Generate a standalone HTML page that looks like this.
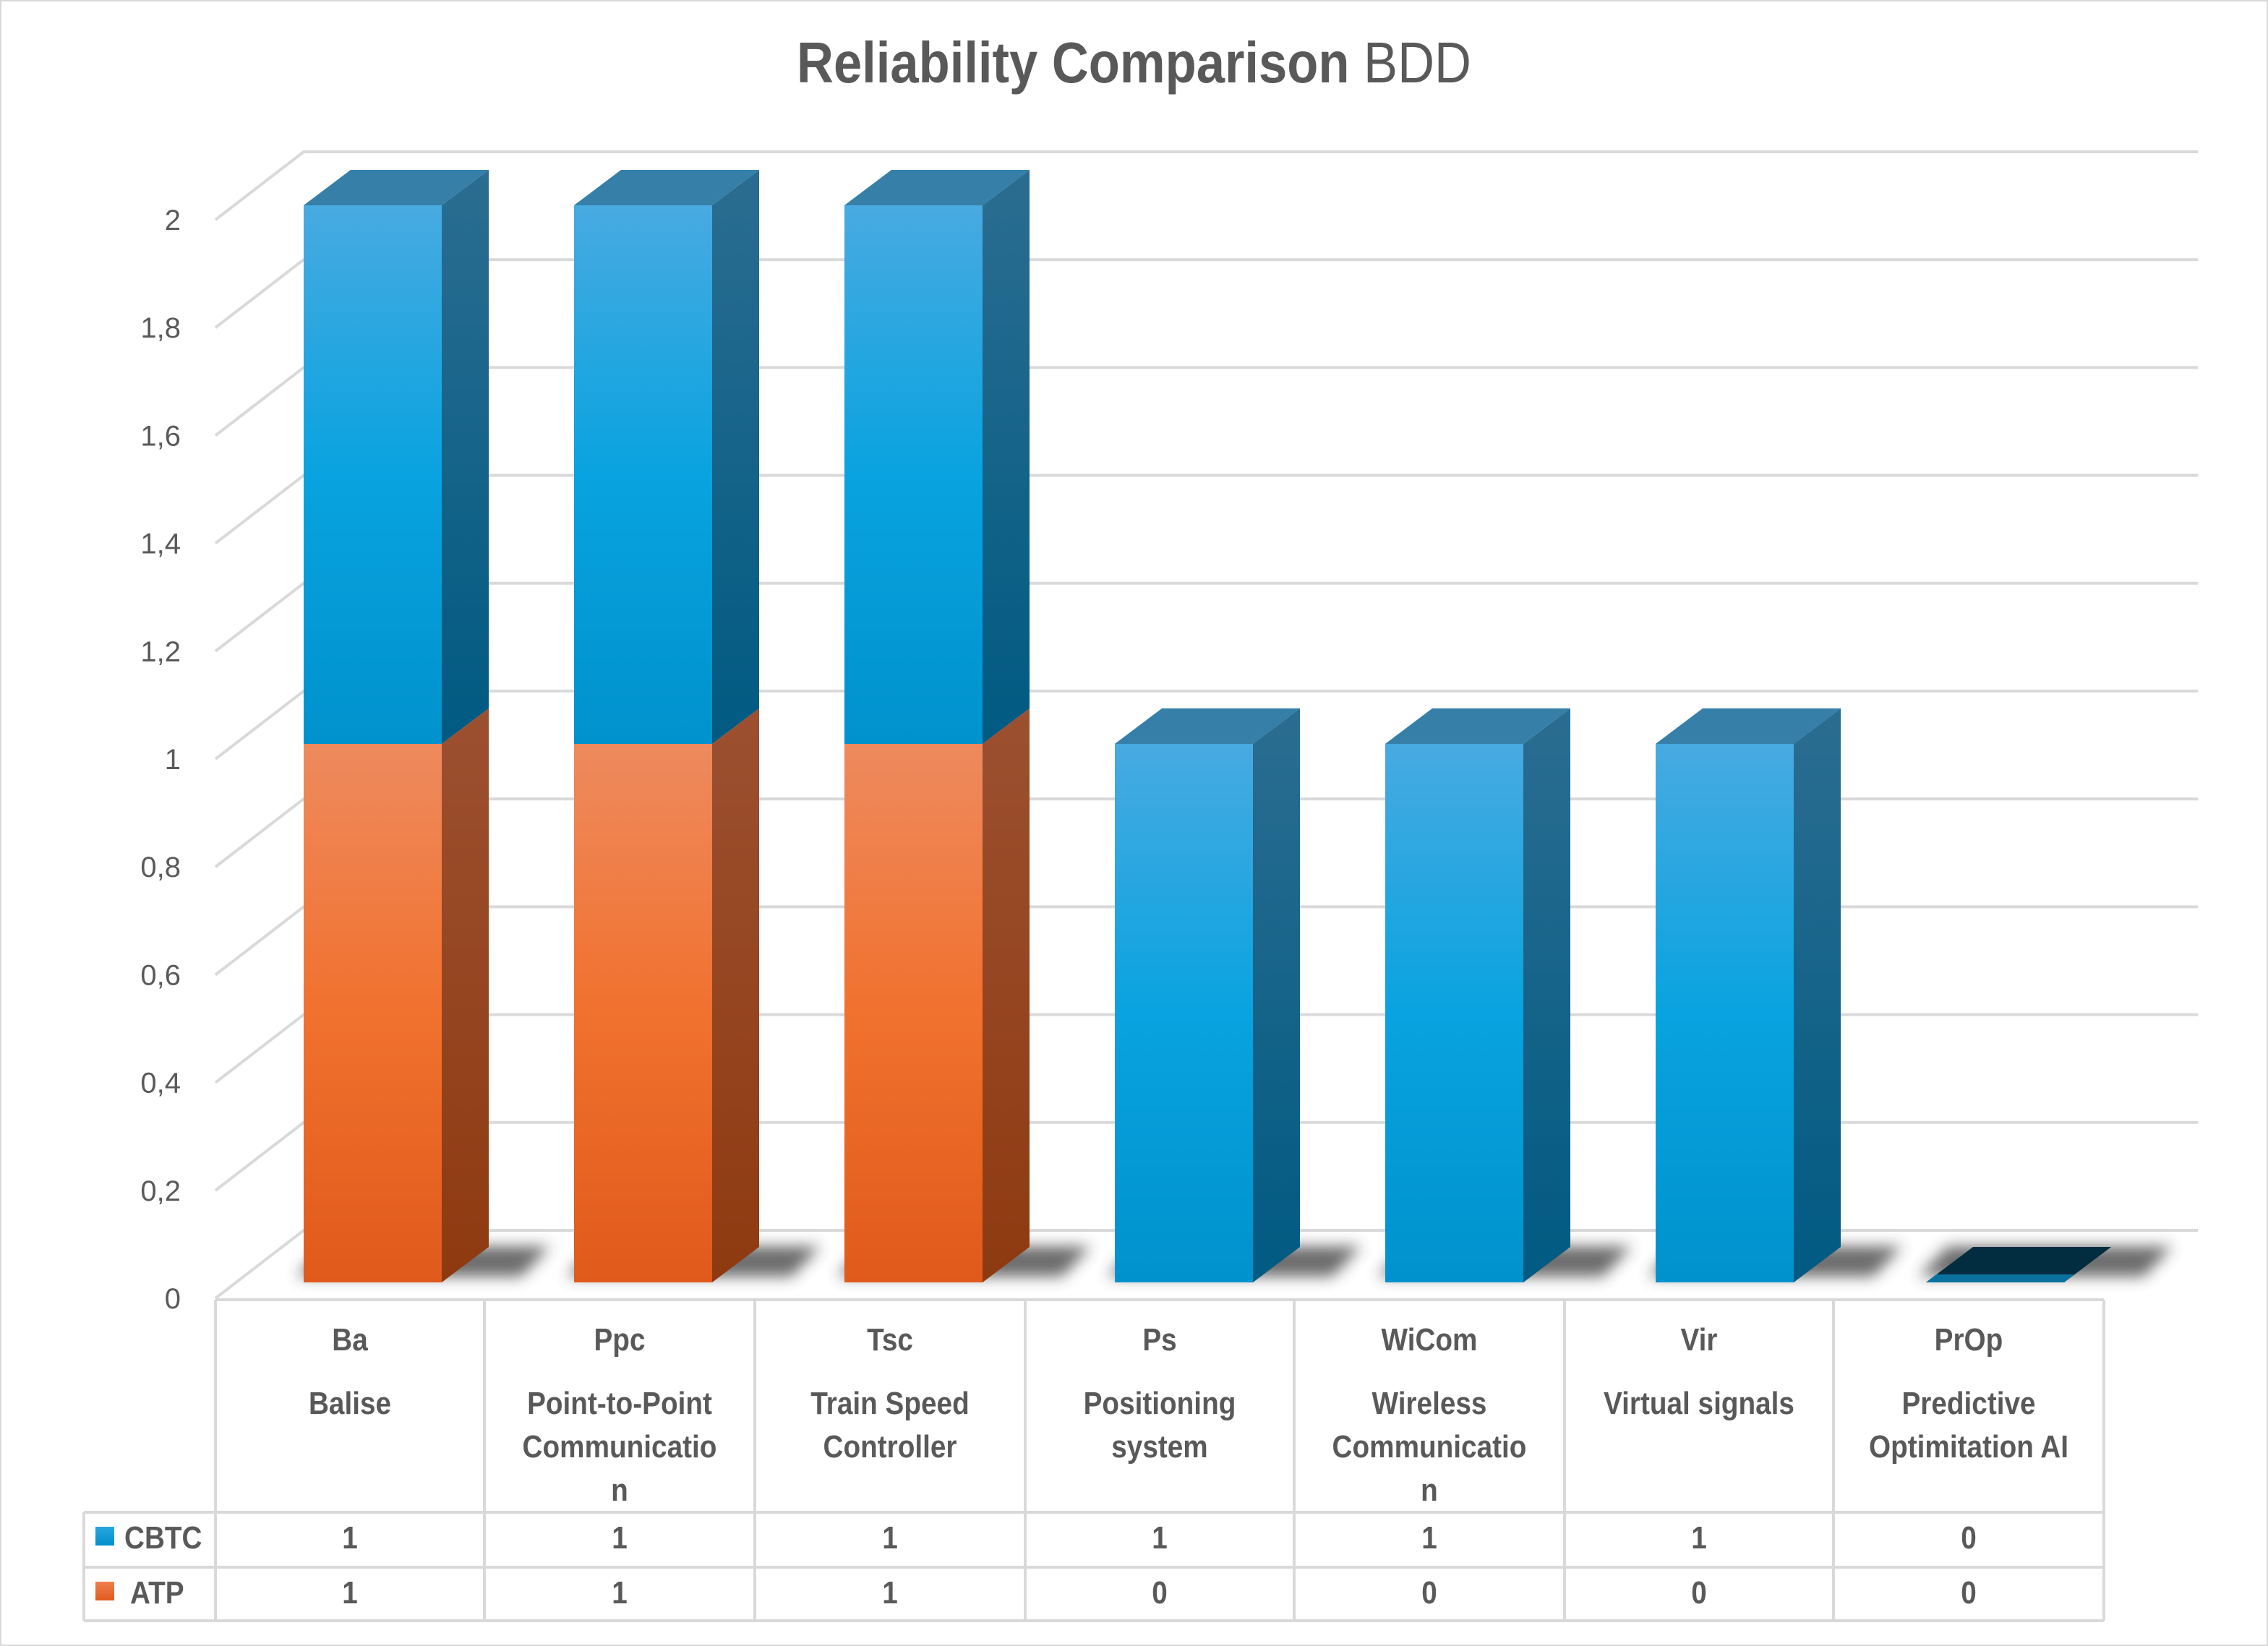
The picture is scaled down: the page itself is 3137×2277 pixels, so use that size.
<!DOCTYPE html>
<html><head><meta charset="utf-8"><style>
html,body{margin:0;padding:0;background:#fff}
svg{display:block}
text{font-family:"Liberation Sans Narrow","Liberation Sans",sans-serif;fill:#595959}
</style></head><body>
<svg id="chart" width="3137" height="2277" viewBox="0 0 3137 2277" xmlns="http://www.w3.org/2000/svg">
<defs>
<linearGradient id="gBlue" x1="0" y1="0" x2="0" y2="1"><stop offset="0" stop-color="#48aae1"/><stop offset="0.5" stop-color="#08a3e0"/><stop offset="1" stop-color="#0092cd"/></linearGradient>
<linearGradient id="gBlueSide" x1="0" y1="0" x2="0" y2="1"><stop offset="0" stop-color="#2b6d91"/><stop offset="1" stop-color="#005a82"/></linearGradient>
<linearGradient id="gOrange" x1="0" y1="0" x2="0" y2="1"><stop offset="0" stop-color="#ee8a5e"/><stop offset="0.5" stop-color="#f1712e"/><stop offset="1" stop-color="#e05a1b"/></linearGradient>
<linearGradient id="gOrangeSide" x1="0" y1="0" x2="0" y2="1"><stop offset="0" stop-color="#9c5030"/><stop offset="1" stop-color="#8e3a10"/></linearGradient>
<linearGradient id="gLegBlue" x1="0" y1="0" x2="0" y2="1"><stop offset="0" stop-color="#2aa6e0"/><stop offset="1" stop-color="#0090cc"/></linearGradient>
<linearGradient id="gLegOr" x1="0" y1="0" x2="0" y2="1"><stop offset="0" stop-color="#f08050"/><stop offset="1" stop-color="#e05a1b"/></linearGradient>
<filter id="blur" x="-20%" y="-100%" width="140%" height="300%"><feGaussianBlur stdDeviation="10"/></filter>
</defs>
<rect x="1" y="1" width="3135" height="2275" fill="#fff" stroke="#d9d9d9" stroke-width="2"/>
<g id="grid"></g>
<g id="floor"></g>
<g id="bars"></g>
<g id="yaxis"></g>
<g id="table"></g>
<text x="1102" y="114" font-size="80" textLength="933" lengthAdjust="spacingAndGlyphs"><tspan font-weight="bold">Reliability Comparison</tspan> BDD</text>
</svg>
<script>
const codes = ["Ba","Ppc","Tsc","Ps","WiCom","Vir","PrOp"];
const names = [["Balise"],["Point-to-Point","Communicatio","n"],["Train Speed","Controller"],["Positioning","system"],["Wireless","Communicatio","n"],["Virtual signals"],["Predictive","Optimitation AI"]];
const cbtc = [1,1,1,1,1,1,0];
const atp = [1,1,1,0,0,0,0];
const yTicks = [0,0.2,0.4,0.6,0.8,1,1.2,1.4,1.6,1.8,2];
const yTickLabels = ["0","0,2","0,4","0,6","0,8","1","1,2","1,4","1,6","1,8","2"];

const NS="http://www.w3.org/2000/svg";
function mk(tag, attrs, parent){const e=document.createElementNS(NS,tag);for(const k in attrs)e.setAttribute(k,attrs[k]);parent.appendChild(e);return e;}
const yFront = v => 1796 - v*746;
const yBack = v => 1702 - v*746;
const yBar = v => 1774 - v*745;
const xBar = i => 420 + i*374;
const BW=191, DX=65, DY=-49;

const grid=document.getElementById('grid');
yTicks.forEach((v,i)=>{
  const p=mk('polyline',{points:`298,${yFront(v)} 420,${yBack(v)} 3040,${yBack(v)}`,fill:'none',stroke:'#d9d9d9','stroke-width':4},grid);
  
  
});
const ya=document.getElementById('yaxis');
yTicks.forEach((v,i)=>{
  const t=mk('text',{x:250,y:yFront(v)+14,'font-size':40,'text-anchor':'end'},ya);
  t.textContent=yTickLabels[i];
  
  
});
const fl=document.getElementById('floor');
const fb=mk('line',{x1:298,y1:1798,x2:2910,y2:1798,stroke:'#d9d9d9','stroke-width':4},fl);


codes.forEach((c,i)=>{
  const x=xBar(i);
  const s=mk('polygon',{points:`${x-10},1766 ${x+BW+110},1766 ${x+BW+150},1724 ${x+30},1724`,fill:'#3a3a3a','opacity':0.75,filter:'url(#blur)'},fl);
  
  
});
const bars=document.getElementById('bars');
function box(i,v0,v1,front,side,top,name){
  const x=xBar(i), yb=yBar(v0), yt=yBar(v1);
  const g=mk('g',{},bars);
  
  
  mk('polygon',{points:`${x+BW},${yb} ${x+BW+DX},${yb+DY} ${x+BW+DX},${yt+DY} ${x+BW},${yt}`,fill:side},g);
  mk('rect',{x:x,y:yt,width:BW,height:yb-yt,fill:front},g);
  if(top) mk('polygon',{points:`${x},${yt} ${x+DX},${yt+DY} ${x+BW+DX},${yt+DY} ${x+BW},${yt}`,fill:top},g);
}
codes.forEach((c,i)=>{
  const a=atp[i], b=cbtc[i];
  if(a>0) box(i,0,a,'url(#gOrange)','url(#gOrangeSide)',b>0?null:'#c0643a','bar-atp-'+c.toLowerCase());
  if(b>0) box(i,a,a+b,'url(#gBlue)','url(#gBlueSide)','#367fa9','bar-cbtc-'+c.toLowerCase());
  if(a+b===0){
    const x=xBar(i);
    const g=mk('g',{},bars);
    
    
    mk('polygon',{points:`${x},1774 ${x+DX},1725 ${x+BW+DX},1725 ${x+BW},1774`,fill:'#022d40'},g);
    mk('polygon',{points:`${x},1774 ${x+14},1763 ${x+BW+14},1763 ${x+BW},1774`,fill:'#0b72a0'},g);
  }
});
const tb=document.getElementById('table');
const colX=[298,670,1044,1418,1790,2164,2536,2910];
const ln=(x1,y1,x2,y2)=>{const l=mk('line',{x1,y1,x2,y2,stroke:'#d9d9d9','stroke-width':4},tb);};
ln(298,1798,2910,1798);
ln(116,2092,2910,2092);ln(116,2168,2910,2168);ln(116,2242,2910,2242);
colX.forEach(x=>ln(x,1798,x,2242));
ln(116,2092,116,2242);
const SX=0.88;
function txt(cx,y,s,size,name){
  const t=mk('text',{x:cx/SX,y:y,'font-size':size,'font-weight':'bold','text-anchor':'middle',transform:`scale(${SX},1)`},tb);
  t.textContent=s;
  
  
}
codes.forEach((c,i)=>{
  const cx=(colX[i]+colX[i+1])/2;
  txt(cx,1868,c,44,'category-code');
  names[i].forEach((s,k)=>txt(cx,1956+k*60,s,44,'category-name'));
  txt(cx,2142,String(cbtc[i]),44,'cbtc-value');
  txt(cx,2218,String(atp[i]),44,'atp-value');
});
const l1=mk('rect',{x:132,y:2112,width:26,height:26,fill:'url(#gLegBlue)'},tb);


const l2=mk('rect',{x:132,y:2188,width:26,height:26,fill:'url(#gLegOr)'},tb);


const t1=mk('text',{x:172/SX,y:2142,'font-size':44,'font-weight':'bold',transform:`scale(${SX},1)`},tb);t1.textContent='CBTC';


const t2=mk('text',{x:180/SX,y:2218,'font-size':44,'font-weight':'bold',transform:`scale(${SX},1)`},tb);t2.textContent='ATP';


</script>
</body></html>
